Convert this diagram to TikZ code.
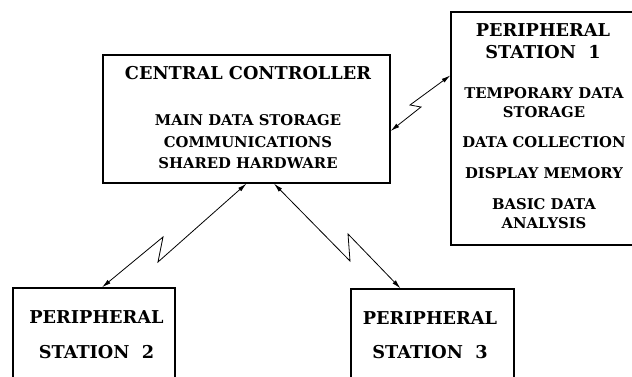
\documentclass[tikz,border=0pt]{standalone}
\usepackage{fontspec}
\setmainfont{DejaVu Serif}
\usepackage{tikz}
\usetikzlibrary{shapes,arrows,arrows.meta,positioning}
\tikzstyle{block} = [draw, line width=1.2pt, rectangle, inner sep=0pt]
\tikzstyle{heading} = [font=\fontsize{17.7}{22}\selectfont\bfseries, align=center, inner sep=0pt]
\tikzstyle{body} = [font=\fontsize{14.8}{19}\selectfont\bfseries, align=center, inner sep=0pt]
\tikzstyle{link} = [<->, line width=0.8pt]

\begin{document}
\begin{tikzpicture}[x=1pt, y=-1pt, >={Latex[length=9pt,width=4.5pt]}]
        \useasboundingbox (0,0) rectangle (632,377);
        \clip (0,0) rectangle (632,377);
        % We start by placing the blocks
        \node [block, minimum width=287pt, minimum height=128pt] (central) at (246.5,119) {};
        \node [block, minimum width=186pt, minimum height=233pt] (station1) at (544,128.5) {};
        \node [block, minimum width=162pt, minimum height=96pt] (station2) at (94,336) {};
        \node [block, minimum width=163pt, minimum height=96pt] (station3) at (432.5,337) {};

        % Then the texts inside them
        \node [heading] (centralTitle) at (248,73) {CENTRAL CONTROLLER};
        \node [body, anchor=north] (centralText) at (248,114.6) {MAIN DATA STORAGE\\[2.5pt] COMMUNICATIONS\\[2.5pt] SHARED HARDWARE};
        \node [heading, anchor=north] (station1Title) at (543,23.5) {PERIPHERAL\\ STATION\ \ 1};
        \node [body, anchor=north] (station1Text) at (544,87.6) {TEMPORARY DATA\\ STORAGE\\[11pt] DATA COLLECTION\\[12pt] DISPLAY MEMORY\\[12pt] BASIC DATA\\ ANALYSIS};
        \node [heading, anchor=north] (station2Title) at (96.5,310.5) {PERIPHERAL\\[13pt] STATION\ \ 2};
        \node [heading, anchor=north] (station3Title) at (430,311.5) {PERIPHERAL\\[12pt] STATION\ \ 3};

        % Once the nodes are placed, the radio links are easy.
        \draw [link] ([yshift=-64pt]station1.north west) -- (410,105) -- (421,107) -- ([yshift=-12pt]central.east);
        \draw [link] (central.south) -- (158,262) -- (163,237) -- ([xshift=8pt]station2.north);
        \draw [link] ([xshift=27.5pt]central.south) -- (350,261) -- (348,234) -- ([xshift=-32pt]station3.north);
    \end{tikzpicture}
\end{document}
